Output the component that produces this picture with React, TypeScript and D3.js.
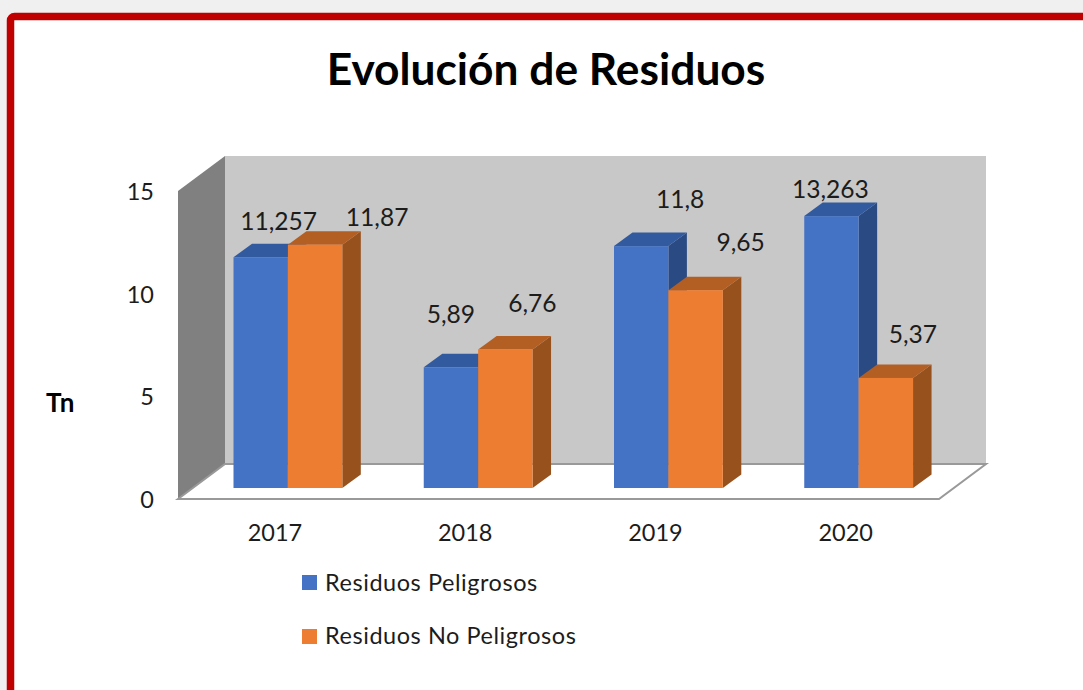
import React from "react";
import * as d3 from "d3";

const categories = ["2017", "2018", "2019", "2020"];
const peligrosos = [11.257, 5.89, 11.8, 13.263];
const noPeligrosos = [11.87, 6.76, 9.65, 5.37];
const peligrososLabels = ["11,257", "5,89", "11,8", "13,263"];
const noPeligrososLabels = ["11,87", "6,76", "9,65", "5,37"];
const yTicks = [0, 5, 10, 15];
const seriesNames = ["Residuos Peligrosos", "Residuos No Peligrosos"];

const W = 1083, H = 690;
const FONT = "Lato, 'Open Sans', sans-serif";
const floorY = 499, baseY = 488, wallL = 178, wallR = 939;
const depthX = 47, depthY = -35;
const barDX = 18.5, barDY = -13.5;

const x = d3.scaleBand<string>().domain(categories).range([wallL, wallR]);
const y = d3.scaleLinear().domain([0, 15]).range([baseY, 180.5]);
const axisY = d3.scaleLinear().domain([0, 15]).range([floorY, 191]);
const barW = 54.4;
const barStart = (c: string) => (x(c) as number) + 55.5;

// hand-placed data label offsets relative to the top centre of each bar
const offP = [[18, -27], [0, -44], [39, -38], [-1, -18]];
const offN = [[62, -19], [27, -37], [45, -39], [27, -35]];

function Bar({ x0, v, front, top, side }: { x0: number; v: number; front: string; top: string; side: string }) {
  const t = y(v);
  const pts = (a: number[][]) => a.map((p) => p.join(",")).join(" ");
  return (
    <g>
      <polygon fill={side} points={pts([[x0 + barW, t], [x0 + barW + barDX, t + barDY], [x0 + barW + barDX, baseY + barDY], [x0 + barW, baseY]])} />
      <polygon fill={top} points={pts([[x0, t], [x0 + barDX, t + barDY], [x0 + barW + barDX, t + barDY], [x0 + barW, t]])} />
      <rect x={x0} y={t} width={barW} height={baseY - t} fill={front} />
    </g>
  );
}

export default function App() {
  const txt = "#1c1c1c";
  return (
    <svg width={W} height={H} style={{ position: "fixed", left: 0, top: 0, background: "#f0f0f0" }} fontFamily={FONT}>
      <rect x={10.5} y={16.5} width={W + 40} height={H + 40} rx={4} fill="#fff" stroke="#c00000" strokeWidth={7.5} />
      <text x={546} y={85} textAnchor="middle" fontSize={44.3} fontWeight={700} fill="#000">Evolución de Residuos</text>

      <polygon fill="#c8c8c8" points={`${wallL + depthX},${floorY + depthY} ${wallL + depthX},${191 + depthY} ${wallR + depthX},${191 + depthY} ${wallR + depthX},${floorY + depthY}`} />
      <polygon fill="#808080" points={`${wallL},${floorY} ${wallL},191 ${wallL + depthX},${191 + depthY} ${wallL + depthX},${floorY + depthY}`} />
      <polygon fill="#fff" stroke="#999" strokeWidth={2} points={`${wallL},${floorY} ${wallL + depthX},${floorY + depthY} ${wallR + depthX},${floorY + depthY} ${wallR},${floorY}`} />

      {yTicks.map((t) => (
        <text key={t} x={154} y={axisY(t) + 9} textAnchor="end" fontSize={23.5} fill={txt}>{t}</text>
      ))}
      <text x={60.5} y={412} textAnchor="middle" fontSize={26} fontWeight={700} fill="#000" letterSpacing={0.6}>Tn</text>

      {categories.map((c, i) => (
        <g key={c}>
          <Bar x0={barStart(c)} v={peligrosos[i]} front="#4472c4" top="#325a9e" side="#2a4a83" />
          <Bar x0={barStart(c) + barW} v={noPeligrosos[i]} front="#ed7d31" top="#b35e23" side="#97511d" />
          <text x={(x(c) as number) + 97} y={541} textAnchor="middle" fontSize={23.5} fill={txt}>{c}</text>
        </g>
      ))}

      {categories.map((c, i) => (
        <g key={c} fontSize={24.6} fill={txt} textAnchor="middle">
          <text x={barStart(c) + barW / 2 + offP[i][0]} y={y(peligrosos[i]) + offP[i][1]}>{peligrososLabels[i]}</text>
          <text x={barStart(c) + barW * 1.5 + offN[i][0]} y={y(noPeligrosos[i]) + offN[i][1]}>{noPeligrososLabels[i]}</text>
        </g>
      ))}

      <rect x={302} y={575} width={15} height={15} fill="#4472c4" />
      <text x={325} y={591} fontSize={23.5} letterSpacing={0.55} fill={txt}>{seriesNames[0]}</text>
      <rect x={302} y={629} width={15} height={15} fill="#ed7d31" />
      <text x={325} y={644} fontSize={23.5} letterSpacing={0.55} fill={txt}>{seriesNames[1]}</text>
    </svg>
  );
}
